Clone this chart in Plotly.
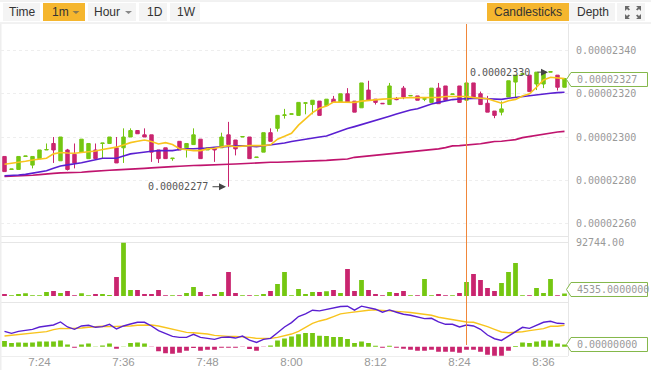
import plotly.graph_objects as go

TICK_INDEX = [5, 17, 29, 41, 53, 65, 77]
TICK_TEXT = ["7:24", "7:36", "7:48", "8:00", "8:12", "8:24", "8:36"]
CURSOR_INDEX = 66

OPEN = [2291,2285,2285,2291,2287,2290,2294,2297,2289,2294,2292,2293,2290,2294,2297,2297,2295,2295,2300,2303,
        2301,2301,2294,2295,2290,2298,2295,2296.5,2299,2294,2295,2295,2301,2298.6,2300,2300,2290.5,2293,2302,2304,
        2310,2310.5,2310,2315.6,2315,2316.6,2314.5,2317.5,2316,2320,2316.6,2313.5,2321.7,2317.5,2315.6,2315,2317.5,2322.6,2319,2319,
        2317.5,2316,2322.6,2323.6,2319.7,2323.6,2317,2325,2320,2315.6,2312,2311.5,2318.5,2325.4,2329,2328.6,2324.5,2324.5,2330,2328.6,2323]
CLOSE = [2284,2285.2,2291,2291.2,2291,2294,2294.2,2294,2300,2285,2288,2299,2297,2290,2297.2,2300,2288,2300,2303,2301.5,
         2300,2293,2290,2290,2290.2,2294,2297,2301,2290,2295,2294,2300,2296.5,2294.5,2300.2,2290,2290.7,2302,2298,2310,
         2310.2,2310.7,2316,2315.8,2317,2310,2317.5,2316,2320,2316,2311.5,2325,2317,2316,2315.4,2323.6,2317.3,2318.5,2319.2,2317,
         2317.7,2322.6,2315.4,2317,2319.9,2316,2325,2318.5,2315,2311.5,2310,2313,2326,2328.6,2329.2,2321,2330,2330,2330.2,2323,2327]
HIGH = [2291,2285.2,2291,2291.2,2291,2294,2297,2300,2300,2294.5,2297,2299,2297,2297,2297.2,2300,2300,2304,2304,2303,
        2304,2301,2294,2295,2290.2,2298,2297,2304,2299,2295,2295,2302,2307,2298.6,2300.2,2300,2290.7,2302,2304,2310,
        2313,2310.7,2316,2315.8,2317,2316.6,2317.5,2319,2320,2322.6,2316.6,2325,2326,2317.5,2315.6,2325,2318.5,2323.6,2319.2,2319,
        2317.7,2322.6,2325,2323.6,2319.9,2323.6,2325,2325,2321,2319,2312,2316.5,2326,2328.6,2329.2,2328.6,2330,2330,2330.2,2328.6,2327]
LOW = [2284,2285,2285,2291,2285.5,2290,2294,2288,2289,2284.5,2285.5,2293,2290,2290,2290,2297,2288,2288,2300,2301.5,
       2300,2288.5,2288,2290,2289,2294,2290.5,2296.5,2290,2294,2288.5,2295,2277,2291.5,2300,2290,2290.5,2293,2298,2302.5,
       2308.5,2310.5,2310,2310.5,2310.5,2310,2314.5,2316,2316,2316,2311.5,2313.5,2317,2315,2315.4,2315,2317,2317.5,2319,2317,
       2316.6,2316,2315.4,2317,2319.7,2316,2317,2318.5,2315,2311.5,2308.7,2310,2318.5,2318.5,2329,2321,2321.7,2322.6,2330,2321.5,2323]

MA7 = [2287.4,2287.8,2288.3,2288.8,2289.4,2289.7,2290.2,2292.2,2292.8,2292.6,2292.5,2292.8,2293.1,2293.5,2294.2,2294.8,2295.3,2296.3,2297.4,2298,
       2298.6,2297.9,2296.8,2297.4,2296.5,2294.6,2294,2293.7,2293.7,2294.5,2294.8,2295.5,2296,2295.5,2295.8,2296,2296,2296,2296.4,2299,
       2300.3,2301.7,2305.5,2308.6,2311.3,2313.3,2314.3,2316.2,2316.2,2316.3,2316,2316.6,2317,2317.4,2317.5,2317.7,2318,2318.3,2318.3,2318.2,
       2318.2,2318.2,2318.3,2318.7,2318.8,2318.8,2318.7,2318.2,2317.9,2317.7,2316.6,2315.6,2316.8,2317.4,2319,2320,2323,2326.4,2327.6,2327.3,2327]
MA25 = [2282.1,2282.1,2282.4,2282.7,2283.2,2283.8,2284.4,2285.5,2286.6,2287.1,2287.5,2288.1,2288.8,2289.4,2290.2,2290.2,2290.2,2291.2,2292.2,2292.6,
        2293.1,2293.4,2293.7,2293.7,2293.7,2294.2,2294.6,2294.6,2294.6,2294.9,2295.2,2295.5,2295.9,2295.9,2295.9,2295.9,2295.5,2295.9,2296.2,2296.6,
        2297.2,2297.9,2298.5,2298.9,2299.5,2300,2300.5,2301.7,2302.8,2303.9,2304.8,2305.7,2306.6,2307.6,2308.5,2309.6,2310.6,2311.6,2312.5,2313.1,
        2314.2,2315.3,2316,2316.8,2317.3,2317.6,2317.7,2317.9,2317.9,2317.7,2317.6,2317.4,2317.9,2318.3,2318.8,2319.3,2319.6,2319.9,2320.2,2320.5,2320.7]
MA99 = [2281.7,2281.8,2282,2282.1,2282.3,2282.6,2283,2283.2,2283.4,2283.4,2283.5,2283.7,2284,2284.3,2284.4,2284.6,2284.8,2284.9,2285.2,2285.4,
        2285.5,2285.7,2286,2286.2,2286.3,2286.5,2286.8,2286.8,2286.9,2287.1,2287.1,2287.2,2287.4,2287.5,2287.7,2287.8,2288,2288.1,2288.3,2288.3,
        2288.4,2288.4,2288.6,2288.8,2288.8,2288.9,2289.2,2289.4,2289.5,2289.8,2290.6,2290.9,2291.2,2291.7,2292,2292.3,2292.6,2292.9,2293.1,2293.4,
        2293.7,2294.2,2294.5,2295.1,2295.9,2296,2296.2,2296.5,2296.9,2297.4,2297.9,2298,2298.3,2298.8,2299.7,2300.2,2301,2301.4,2301.9,2302.3,2302.6]

VOLUME = [3456,1152,3456,4608,1152,1152,6912,8640,5184,8640,1152,4608,1152,3456,3456,1728,32832,92744,10368,10368,
          3456,3456,10368,1152,1152,1152,5184,15552,6912,1152,3456,6912,41472,5184,1152,1152,1152,3456,8640,20736,
          41472,1152,12096,3456,6912,6912,8064,10368,5184,46656,8640,27648,10368,3456,1152,6912,5184,8640,1152,1152,
          29376,1152,3456,1152,1152,5184,24192,38016,27648,13824,8640,22464,41472,57024,1152,1152,13824,5184,29376,1152,4535]

DIF = [46,40,46,49,52,59,62,65,74,59,52,62,64,58,60,67,53,62,68,73,
       73,62,48,39,31,28,28,37,28,25,22,28,29,26,32,20,13,22,25,42,
       59,72,90,98,109,107,112,115,120,121,109,121,116,112,103,110,103,97,94,89,
       84,85,74,67,67,59,65,62,52,35,24,19,32,47,58,55,64,73,76,70,69]
DEA = [32,34,37,38,39,42,45,51,55,54,54,56,58,60,61,60,60,61,62,64,
       65,65,62,57,52,47,43,42,41,38,34,32,31,31,30,28,25,25,25,28,
       32,38,46,58,70,77,82,90,98,101,104,107,109,110,109,108,106,104,102,100,
       98,94,88,84,80,77,74,73,67,60,52,44,42,43,45,48,51,54,61,61,64]
HIST = [17,11,13,12,13,16,16,16,19,7,-3,7,10,1,4,10,-6,1,11,13,
        10,-1,-13,-19,-21,-18,-12,-4,-12,-9,-9,-3,-3,-3,-1,-7,-12,-1,4,19,
        25,31,37,41,41,33,32,29,29,23,11,16,11,3,-3,3,-3,-6,-9,-12,
        -12,-9,-15,-15,-15,-18,-9,-9,-15,-24,-27,-27,-12,2,13,11,16,19,19,10,7]

W, H = 651, 370
GREEN, RED = "#75c712", "#c9256f"
FONT_UI = "Liberation Sans"
FONT_MONO = "DejaVu Sans Mono"
GRAY = "#999999"
x = list(range(len(OPEN)))


def dom(y0, y1):
    return [1 - y1 / H, 1 - y0 / H]


def path(points, **kw):
    d = "M" + " L".join(f"{px / W:.5f},{1 - py / H:.5f}" for px, py in points) + " Z"
    return dict(type="path", xref="paper", yref="paper", path=d, layer=kw.pop("layer", "above"), **kw)


def rect(x0, y0, x1, y1, fill, line=None):
    return dict(type="rect", xref="paper", yref="paper", x0=x0 / W, x1=x1 / W, y0=1 - y0 / H, y1=1 - y1 / H,
                fillcolor=fill, line=dict(width=1 if line else 0, color=line or fill), layer="below")


def hline(y, c="#e6e6e6", x0=1, x1=568):
    return dict(type="line", xref="paper", yref="paper", x0=x0 / W, x1=x1 / W, y0=1 - y / H, y1=1 - y / H,
                line=dict(color=c, width=1), layer="below")


def vline(px, y0, y1, c="#e6e6e6", w=1):
    return dict(type="line", xref="paper", yref="paper", x0=px / W, x1=px / W, y0=1 - y0 / H, y1=1 - y1 / H,
                line=dict(color=c, width=w), layer="below")


def label(px, py, text, size=12, color="#333333", anchor="left", font=FONT_UI):
    return dict(xref="paper", yref="paper", x=px / W, y=1 - py / H, text=text, showarrow=False,
                xanchor=anchor, yanchor="middle", font=dict(family=font, size=size, color=color),
                borderpad=0, borderwidth=0, align=anchor)


fig = go.Figure()
fig.add_trace(go.Candlestick(x=x, open=OPEN, high=HIGH, low=LOW, close=CLOSE, yaxis="y", whiskerwidth=0,
                             increasing=dict(line=dict(color=GREEN, width=1), fillcolor=GREEN),
                             decreasing=dict(line=dict(color=RED, width=1), fillcolor=RED)))
for vals, c, w in [(MA99, "#c0146e", 1.6), (MA25, "#5a1fd1", 1.6), (MA7, "#f8c41e", 1.6)]:
    fig.add_trace(go.Scatter(x=x, y=vals, yaxis="y", mode="lines", line=dict(color=c, width=w)))
fig.add_trace(go.Bar(x=x, y=VOLUME, yaxis="y2", width=0.68,
                     marker=dict(color=[GREEN if c >= o else RED for o, c in zip(OPEN, CLOSE)], line=dict(width=0))))
fig.add_trace(go.Bar(x=x, y=HIST, yaxis="y3", width=0.68,
                     marker=dict(color=[GREEN if v >= 0 else RED for v in HIST], line=dict(width=0))))
fig.add_trace(go.Scatter(x=x, y=DEA, yaxis="y3", mode="lines", line=dict(color="#f8c41e", width=1.4)))
fig.add_trace(go.Scatter(x=x, y=DIF, yaxis="y3", mode="lines", line=dict(color="#5a1fd1", width=1.4)))

shapes = [
    hline(1, "#e4e4e4", 0, 651), hline(23, "#e4e4e4", 0, 651),
    hline(236.5), hline(242.5), hline(302.5), hline(356.5, "#eeeeee"),
    vline(568.5, 24, 356), rect(0, 24, 1.5, 370, "#eeeeee"),
    rect(3, 3, 40, 21, "#f4f4f4"), rect(43, 3, 85, 21, "#f5b62e"), rect(88, 3, 136, 21, "#f4f4f4"),
    rect(139, 3, 167, 21, "#f4f4f4"), rect(170, 3, 200, 21, "#f4f4f4"),
    rect(487, 3, 569, 21, "#f5b62e"), rect(569, 3, 615, 21, "#f4f4f4"), rect(617, 3, 645, 21, "#f4f4f4"),
    path([(72.5, 11), (79.5, 11), (76, 14)], fillcolor="#8a7a50", line=dict(width=0)),
    path([(125, 11), (132, 11), (128.5, 14)], fillcolor="#888888", line=dict(width=0)),
]
for cx, cy, sx, sy in [(626, 8, 1, 1), (640, 8, -1, 1), (626, 17, 1, -1), (640, 17, -1, -1)]:
    shapes.append(path([(cx - sx, cy - sy * 2), (cx + sx * 4, cy - sy * 2), (cx + sx * 2.2, cy - sy * 0.4),
                        (cx + sx * 4, cy + sy * 1.4), (cx + sx * 2.6, cy + sy * 2.6), (cx + sx * 1, cy + sy * 1),
                        (cx - sx, cy + sy * 3)], fillcolor="#6a6a6a", line=dict(width=0)))
for yc, tip, right in [(79.5, 566.5, 647.5), (289.5, 566.5, 647.5), (344.5, 566.5, 647.5)]:
    shapes.append(path([(tip, yc), (571, yc - 7), (right, yc - 7), (right, yc + 7), (571, yc + 7)],
                       fillcolor="white", line=dict(color="#84b84a", width=1)))
shapes.append(dict(type="line", xref="x", yref="paper", x0=CURSOR_INDEX, x1=CURSOR_INDEX,
                   y0=1 - 345 / H, y1=1 - 24 / H, line=dict(color="#f0873a", width=1), layer="above"))

ann = [
    label(9, 12, "Time"), label(52, 12, "1m"), label(94, 12, "Hour"), label(147, 12, "1D"), label(177, 12, "1W"),
    label(528, 12, "Candlesticks", anchor="center"), label(592.5, 12, "Depth", anchor="center"),
    label(576.5, 79.5, "0.00002327", 10, GRAY, font=FONT_MONO),
    label(576.5, 289.5, "4535.0000000", 10, GRAY, font=FONT_MONO),
    label(576.5, 344.5, "0.00000000", 10, GRAY, font=FONT_MONO),
    dict(x=32, y=2277, xref="x", yref="y", text="0.00002277", showarrow=False, xanchor="right", xshift=-19,
         font=dict(family=FONT_MONO, size=10, color="#555555")),
    dict(x=78, y=2330, xref="x", yref="y", text="0.00002330", showarrow=False, xanchor="right", xshift=-19,
         font=dict(family=FONT_MONO, size=10, color="#555555")),
    dict(x=32, y=2277, xref="x", yref="y", text="", showarrow=True, axref="pixel", ayref="pixel", ax=-15, ay=0,
         xshift=-2.5, arrowhead=2, arrowsize=1.4, arrowwidth=1, arrowcolor="#444444"),
    dict(x=78, y=2330, xref="x", yref="y", text="", showarrow=True, axref="pixel", ayref="pixel", ax=-12, ay=0,
         xshift=-2.5, arrowhead=2, arrowsize=1.4, arrowwidth=1, arrowcolor="#444444"),
]

fig.update_layout(
    width=W, height=H, autosize=False, margin=dict(l=0, r=0, t=0, b=0, autoexpand=False), paper_bgcolor="white", plot_bgcolor="white",
    showlegend=False, barmode="overlay", boxgap=0.3, hovermode=False, shapes=shapes, annotations=ann,
    xaxis=dict(domain=[1 / W, 568 / W], range=[-0.5, 80.5], anchor="free", position=1 - 353.5 / H,
               rangeslider=dict(visible=False),
               tickmode="array", tickvals=TICK_INDEX, ticktext=TICK_TEXT, showgrid=False, zeroline=False, showline=False,
               ticks="", tickfont=dict(family=FONT_UI, size=11.5, color=GRAY)),
    yaxis=dict(domain=dom(23.5, 236.5), range=[2340 - (236.5 - 50.5) / 2.1625, 2340 + (50.5 - 23.5) / 2.1625],
               anchor="x", side="right", position=568 / W, tickmode="array", tickvals=[2260, 2280, 2300, 2320, 2340],
               ticktext=["0.00002260", "0.00002280", "0.00002300", "0.00002320", "0.00002340"],
               showgrid=True, gridcolor="#eeeeee", griddash="dot", gridwidth=1, zeroline=False, ticks="",
               ticklabelstandoff=7, tickfont=dict(family=FONT_MONO, size=10, color=GRAY)),
    yaxis2=dict(domain=dom(242.5, 302.5), range=[-(302.5 - 296) * 92744 / 53.5, 92744],
                anchor="x", side="right", tickmode="array", tickvals=[92744], ticktext=["92744.00"],
                showgrid=False, zeroline=False, ticks="", ticklabelstandoff=7,
                tickfont=dict(family=FONT_MONO, size=10, color=GRAY)),
    yaxis3=dict(domain=dom(302.5, 356.5), range=[-29, 132], anchor="x", showgrid=False, zeroline=False,
                showticklabels=False, ticks=""),
)
fig.write_html("out.html", config=dict(displayModeBar=False, staticPlot=True),
               post_script="document.body.style.margin='0';document.body.style.overflow='hidden';")
